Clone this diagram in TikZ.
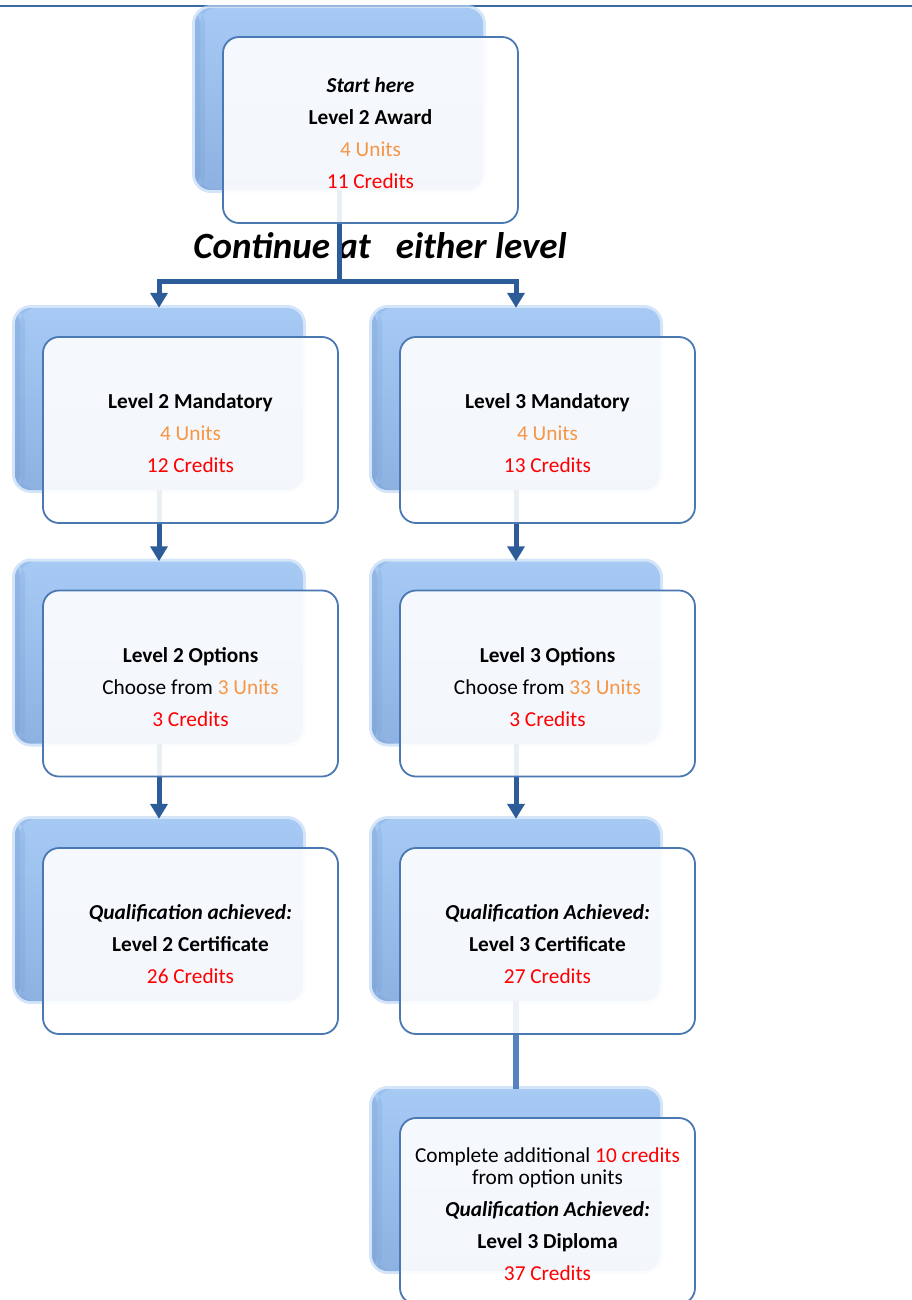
\documentclass[tikz,border=0pt]{standalone}
\usepackage{fontspec}
\setmainfont{Carlito}
\usetikzlibrary{arrows.meta,calc}
\definecolor{ora}{HTML}{F79646}
\definecolor{crd}{HTML}{FF0000}
\definecolor{linkblue}{HTML}{2C5D98}
\definecolor{lightlink}{HTML}{5683BF}
\definecolor{frame}{HTML}{4A78B2}
\definecolor{topline}{HTML}{3A69A4}
\definecolor{backtop}{HTML}{A6CAF4}
\definecolor{backmid}{HTML}{8FB4E4}
\definecolor{backbot}{HTML}{8DB2E2}
\definecolor{backglow}{HTML}{C2DAF6}
\definecolor{backleft}{HTML}{6F97CC}
\newcommand{\toppad}{\rule{0pt}{21.5pt}}
\begin{document}
\begin{tikzpicture}[x=1pt,y=-1pt,
  backbox/.style={minimum width=288pt,minimum height=182pt,inner sep=0pt,
    rounded corners=16pt,top color=backtop,middle color=backmid,bottom color=backbot,
    preaction={draw=backglow,line width=6pt,draw opacity=0.7},
    path picture={
      \fill[backleft,opacity=0.35] (path picture bounding box.north west) rectangle ($(path picture bounding box.south west)+(5,0)$);
      \fill[backleft,opacity=0.2] ($(path picture bounding box.north west)+(5,0)$) rectangle ($(path picture bounding box.south west)+(10,0)$);
      \fill[white,opacity=0.25] (path picture bounding box.north west) rectangle ($(path picture bounding box.north east)+(0,-5)$);
    }},
  frontbox/.style={minimum width=295pt,minimum height=186pt,inner sep=0pt,
    rounded corners=16pt,draw=frame,line width=1.8pt,fill=white,fill opacity=0.9,
    text opacity=1,draw opacity=1,align=center,font=\fontsize{21.3}{32}\selectfont},
  conn/.style={draw=linkblue,line width=5pt},
  arr/.style={conn,-{Triangle[width=17pt,length=15pt]}},
  ]
\useasboundingbox (0,0) rectangle (912,1300);
\clip (0,0) rectangle (912,1300);

\draw[topline,line width=2pt] (0,6) -- (912,6);

% back boxes
\node[backbox] (bawd) at (339,99) {};
\node[backbox] (bm2) at (159,399) {};
\node[backbox] (bm3) at (516,399) {};
\node[backbox] (bo2) at (159,652.5) {};
\node[backbox] (bo3) at (516,652.5) {};
\node[backbox] (bc2) at (159,910) {};
\node[backbox] (bc3) at (516,910) {};
\node[backbox] (bdip) at (516,1180) {};

% label
\node[font=\fontsize{37}{42}\selectfont\bfseries\itshape] (cont) at (380,246) {Continue at\ \ \ either level};

% connectors
\coordinate (split) at (339,281);
\draw[conn] (bawd.south) -- (split);
\draw[arr] (split) -| (bm2.north);
\draw[arr] (split) -| (bm3.north);
\draw[arr] (bm2.south) -- (bo2.north);
\draw[arr] (bm3.south) -- (bo3.north);
\draw[arr] (bo2.south) -- (bc2.north);
\draw[arr] (bo3.south) -- (bc3.north);
\draw[draw=lightlink,line width=6pt] (bc3.south) -- (bdip.north);

% front boxes
\node[frontbox] (award) at ($(bawd)+(31.5,31)$) {\toppad\textbf{\textit{Start here}}\\ \textbf{Level 2 Award}\\ \textcolor{ora}{4 Units}\\ \textcolor{crd}{11 Credits}};
\node[frontbox] (m2) at ($(bm2)+(31.5,31)$) {\toppad\textbf{Level 2 Mandatory}\\ \textcolor{ora}{4 Units}\\ \textcolor{crd}{12 Credits}};
\node[frontbox] (m3) at ($(bm3)+(31.5,31)$) {\toppad\textbf{Level 3 Mandatory}\\ \textcolor{ora}{4 Units}\\ \textcolor{crd}{13 Credits}};
\node[frontbox] (o2) at ($(bo2)+(31.5,31)$) {\toppad\textbf{Level 2 Options}\\ Choose from \textcolor{ora}{3 Units}\\ \textcolor{crd}{3 Credits}};
\node[frontbox] (o3) at ($(bo3)+(31.5,31)$) {\toppad\textbf{Level 3 Options}\\ Choose from \textcolor{ora}{33 Units}\\ \textcolor{crd}{3 Credits}};
\node[frontbox] (c2) at ($(bc2)+(31.5,31)$) {\toppad\textbf{\textit{Qualification achieved:}}\\ \textbf{Level 2 Certificate}\\ \textcolor{crd}{26 Credits}};
\node[frontbox] (c3) at ($(bc3)+(31.5,31)$) {\toppad\textbf{\textit{Qualification Achieved:}}\\ \textbf{Level 3 Certificate}\\ \textcolor{crd}{27 Credits}};
\node[frontbox] (dip) at ($(bdip)+(31.5,31)$) {\toppad Complete additional \textcolor{crd}{10 credits}\\[-10pt] from option units\\ \textbf{\textit{Qualification Achieved:}}\\ \textbf{Level 3 Diploma}\\ \textcolor{crd}{37 Credits}};
\end{tikzpicture}
\end{document}
